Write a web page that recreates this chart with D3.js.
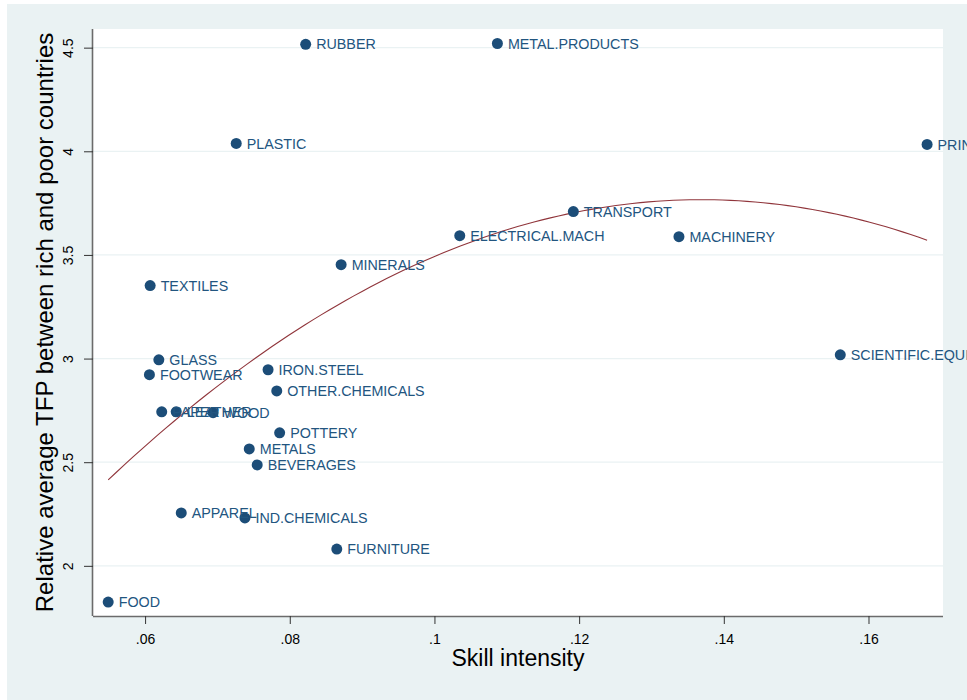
<!DOCTYPE html>
<html>
<head>
<meta charset="utf-8">
<script src="https://cdn.jsdelivr.net/npm/d3@7"></script>
<style>
  html, body { margin: 0; padding: 0; background: #ffffff; }
  svg { display: block; font-family: "Liberation Sans", Arial, Helvetica, sans-serif; }
</style>
</head>
<body>
<svg id="chart" width="967" height="700"></svg>
<script>
// Industries: skill intensity vs relative TFP (rich / poor countries)
const industries = [
  "RUBBER", "METAL.PRODUCTS", "PLASTIC", "PRINTING", "TRANSPORT",
  "ELECTRICAL.MACH", "MACHINERY", "MINERALS", "TEXTILES", "SCIENTIFIC.EQUIP",
  "GLASS", "FOOTWEAR", "IRON.STEEL", "OTHER.CHEMICALS", "PAPER",
  "LEATHER", "WOOD", "POTTERY", "METALS", "BEVERAGES",
  "APPAREL", "IND.CHEMICALS", "FURNITURE", "FOOD"
];
const skillIntensity = [
  0.0822, 0.1087, 0.0726, 0.1681, 0.1192,
  0.1035, 0.1338, 0.0871, 0.0607, 0.1561,
  0.0619, 0.0606, 0.0770, 0.0782, 0.0623,
  0.0643, 0.0694, 0.0786, 0.0744, 0.0755,
  0.0650, 0.0738, 0.0865, 0.0549
];
const relativeTFP = [
  4.516, 4.520, 4.038, 4.033, 3.709,
  3.593, 3.588, 3.453, 3.352, 3.018,
  2.994, 2.922, 2.946, 2.844, 2.743,
  2.743, 2.739, 2.642, 2.564, 2.487,
  2.255, 2.231, 2.081, 1.825
];
const xTicks = [0.06, 0.08, 0.10, 0.12, 0.14, 0.16];
const xTickLabels = [".06", ".08", ".1", ".12", ".14", ".16"];
const yTicks = [2, 2.5, 3, 3.5, 4, 4.5];
const yTickLabels = ["2", "2.5", "3", "3.5", "4", "4.5"];

const colors = {
  bg: "#eaf2f3",
  marker: "#1c4d78",
  label: "#22557f",
  fit: "#90353b",
  grid: "#eaf2f3",
  axis: "#6b6b6b",
  text: "#000000"
};

const svg = d3.select("#chart");
const plot = { left: 93, right: 943, top: 29, bottom: 616 };

// outer graph region
svg.append("rect")
  .attr("x", 7).attr("y", 4).attr("width", 967 - 7).attr("height", 700 - 4)
  .attr("fill", colors.bg);
// plot region
svg.append("rect")
  .attr("x", plot.left).attr("y", plot.top)
  .attr("width", plot.right - plot.left).attr("height", plot.bottom - plot.top)
  .attr("fill", "#ffffff");

const x = d3.scaleLinear().domain([0.0528, 0.1703]).range([plot.left, plot.right]);
const y = d3.scaleLinear().domain([1.758, 4.59]).range([plot.bottom, plot.top]);

// horizontal grid lines
svg.append("g").selectAll("line").data(yTicks).join("line")
  .attr("x1", plot.left).attr("x2", plot.right)
  .attr("y1", d => y(d)).attr("y2", d => y(d))
  .attr("stroke", colors.grid).attr("stroke-width", 1.2);

// quadratic least-squares fit of TFP on skill intensity
function quadFit(xs, ys) {
  const n = xs.length;
  const m = d3.mean(xs);
  const u = xs.map(v => v - m);
  let S = [[0,0,0],[0,0,0],[0,0,0]], b = [0,0,0];
  for (let i = 0; i < n; i++) {
    const r = [1, u[i], u[i] * u[i]];
    for (let a = 0; a < 3; a++) {
      b[a] += r[a] * ys[i];
      for (let c = 0; c < 3; c++) S[a][c] += r[a] * r[c];
    }
  }
  // Gaussian elimination
  for (let k = 0; k < 3; k++) {
    for (let i = k + 1; i < 3; i++) {
      const f = S[i][k] / S[k][k];
      for (let j = k; j < 3; j++) S[i][j] -= f * S[k][j];
      b[i] -= f * b[k];
    }
  }
  const coef = [0, 0, 0];
  for (let i = 2; i >= 0; i--) {
    let s = b[i];
    for (let j = i + 1; j < 3; j++) s -= S[i][j] * coef[j];
    coef[i] = s / S[i][i];
  }
  return v => coef[0] + coef[1] * (v - m) + coef[2] * (v - m) * (v - m);
}
const fit = quadFit(skillIntensity, relativeTFP);
const [xmin, xmax] = d3.extent(skillIntensity);
const fitPts = d3.range(0, 101).map(i => {
  const v = xmin + (xmax - xmin) * i / 100;
  return [v, fit(v)];
});
svg.append("path")
  .datum(fitPts)
  .attr("d", d3.line().x(d => x(d[0])).y(d => y(d[1])))
  .attr("fill", "none").attr("stroke", colors.fit).attr("stroke-width", 1.1);

// axes
const xAxis = d3.axisBottom(x).tickValues(xTicks)
  .tickFormat((d, i) => xTickLabels[i]).tickSize(8).tickPadding(10);
const gx = svg.append("g").attr("transform", `translate(0,${plot.bottom})`).call(xAxis);
gx.select(".domain").attr("stroke", colors.axis).attr("stroke-width", 1.6)
  .attr("d", `M${plot.left},0.5H${plot.right}`);
gx.selectAll(".tick line").attr("stroke", "#333");
gx.selectAll(".tick text").attr("font-size", 14).attr("fill", colors.text)
  .attr("font-family", "Liberation Sans, Arial, sans-serif");

const yAxis = d3.axisLeft(y).tickValues(yTicks)
  .tickFormat((d, i) => yTickLabels[i]).tickSize(9).tickPadding(0);
const gy = svg.append("g").attr("transform", `translate(${plot.left},0)`).call(yAxis);
gy.select(".domain").attr("stroke", colors.axis).attr("stroke-width", 1.6)
  .attr("d", `M-0.5,${plot.top}V${plot.bottom}`);
gy.selectAll(".tick line").attr("stroke", "#333");
gy.selectAll(".tick text")
  .attr("font-size", 14).attr("fill", colors.text)
  .attr("font-family", "Liberation Sans, Arial, sans-serif")
  .attr("x", null).attr("dy", null)
  .attr("text-anchor", "middle")
  .attr("transform", "translate(-20,0) rotate(-90)");

// axis titles
svg.append("text")
  .attr("x", (plot.left + plot.right) / 2).attr("y", 666)
  .attr("text-anchor", "middle").attr("font-size", 23).attr("fill", colors.text)
  .text("Skill intensity");
svg.append("text")
  .attr("transform", `translate(53,${(plot.top + plot.bottom) / 2}) rotate(-90)`)
  .attr("text-anchor", "middle").attr("font-size", 24).attr("fill", colors.text)
  .text("Relative average TFP between rich and poor countries");

// markers and labels
const pts = industries.map((name, i) => ({ name, sx: skillIntensity[i], ty: relativeTFP[i] }));
const g = svg.append("g");
g.selectAll("circle").data(pts).join("circle")
  .attr("cx", d => x(d.sx)).attr("cy", d => y(d.ty)).attr("r", 5.5)
  .attr("fill", colors.marker);
g.selectAll("text").data(pts).join("text")
  .attr("x", d => x(d.sx) + 10.5).attr("y", d => y(d.ty)).attr("dy", "0.36em")
  .attr("font-size", 14.3).attr("fill", colors.label)
  .text(d => d.name);
</script>
</body>
</html>
